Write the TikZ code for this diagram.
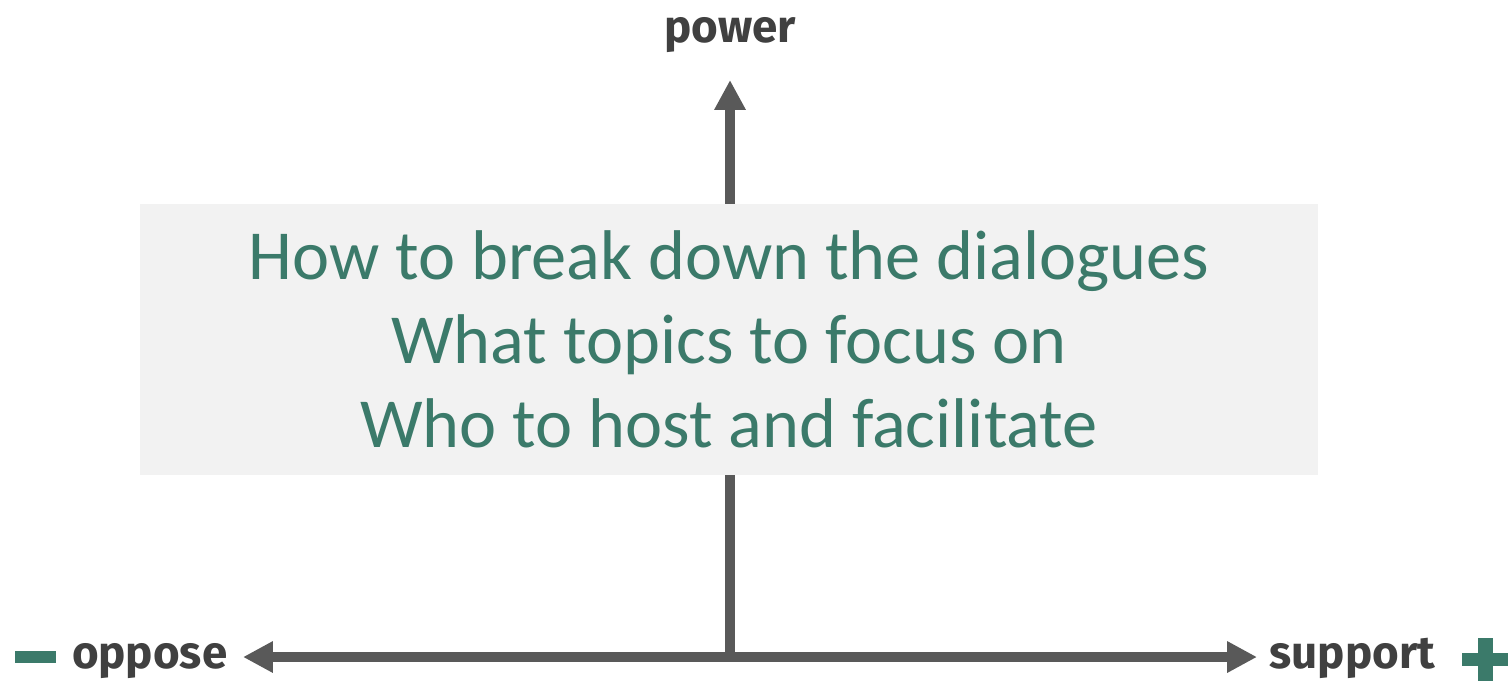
\documentclass[tikz,border=0pt]{standalone}
\usepackage{fontspec}
\setmainfont{Carlito}
\newfontfamily\labelfont{Fira Sans}
\usetikzlibrary{arrows.meta,positioning}
\definecolor{axisgray}{RGB}{89,89,89}
\definecolor{labelgray}{RGB}{64,64,64}
\definecolor{stakegreen}{RGB}{59,122,106}
\definecolor{boxgray}{RGB}{242,242,242}
\tikzset{
    axis/.style={line width=2.85pt,axisgray,-{Triangle[length=8.5pt,width=8.4pt]}},
    axislabel/.style={font=\labelfont\bfseries\fontsize{13}{15}\selectfont,labelgray,inner sep=0pt},
    signbar/.style={fill=stakegreen,draw=none},
    focusbox/.style={fill=boxgray,draw=none,minimum width=11.78cm,minimum height=2.71cm,
        align=center,text=stakegreen,font=\fontsize{20}{23.9}\selectfont}
}
\begin{document}
\begin{tikzpicture}[x=0.01cm,y=-0.01cm]
    \useasboundingbox (0,0) rectangle (1510,681);
    \coordinate (origin) at (730,657);
    \coordinate (top) at (730,80);
    \coordinate (left) at (243,657);
    \coordinate (right) at (1257,657);
    % axes
    \draw[axis] (origin) -- (top);
    \draw[axis,{Triangle[length=8.5pt,width=8.4pt]}-{Triangle[length=8.5pt,width=8.4pt]}] (left) -- (right);
    \node[focusbox] (focus) at (729,339.5) {How to break down the dialogues\\What topics to focus on\\Who to host and facilitate};
    \node[axislabel,anchor=base] (power) at (730,42) {power};
    \node[axislabel,anchor=base east] (oppose) at (228,668) {oppose};
    \node[axislabel,anchor=base west] (support) at (1269,668) {support};
    % signs
    \fill[signbar] (15,651) rectangle (56,663);
    \fill[signbar] (1462,653) rectangle (1508,666);
    \fill[signbar] (1478,638) rectangle (1493,681);
\end{tikzpicture}
\end{document}
